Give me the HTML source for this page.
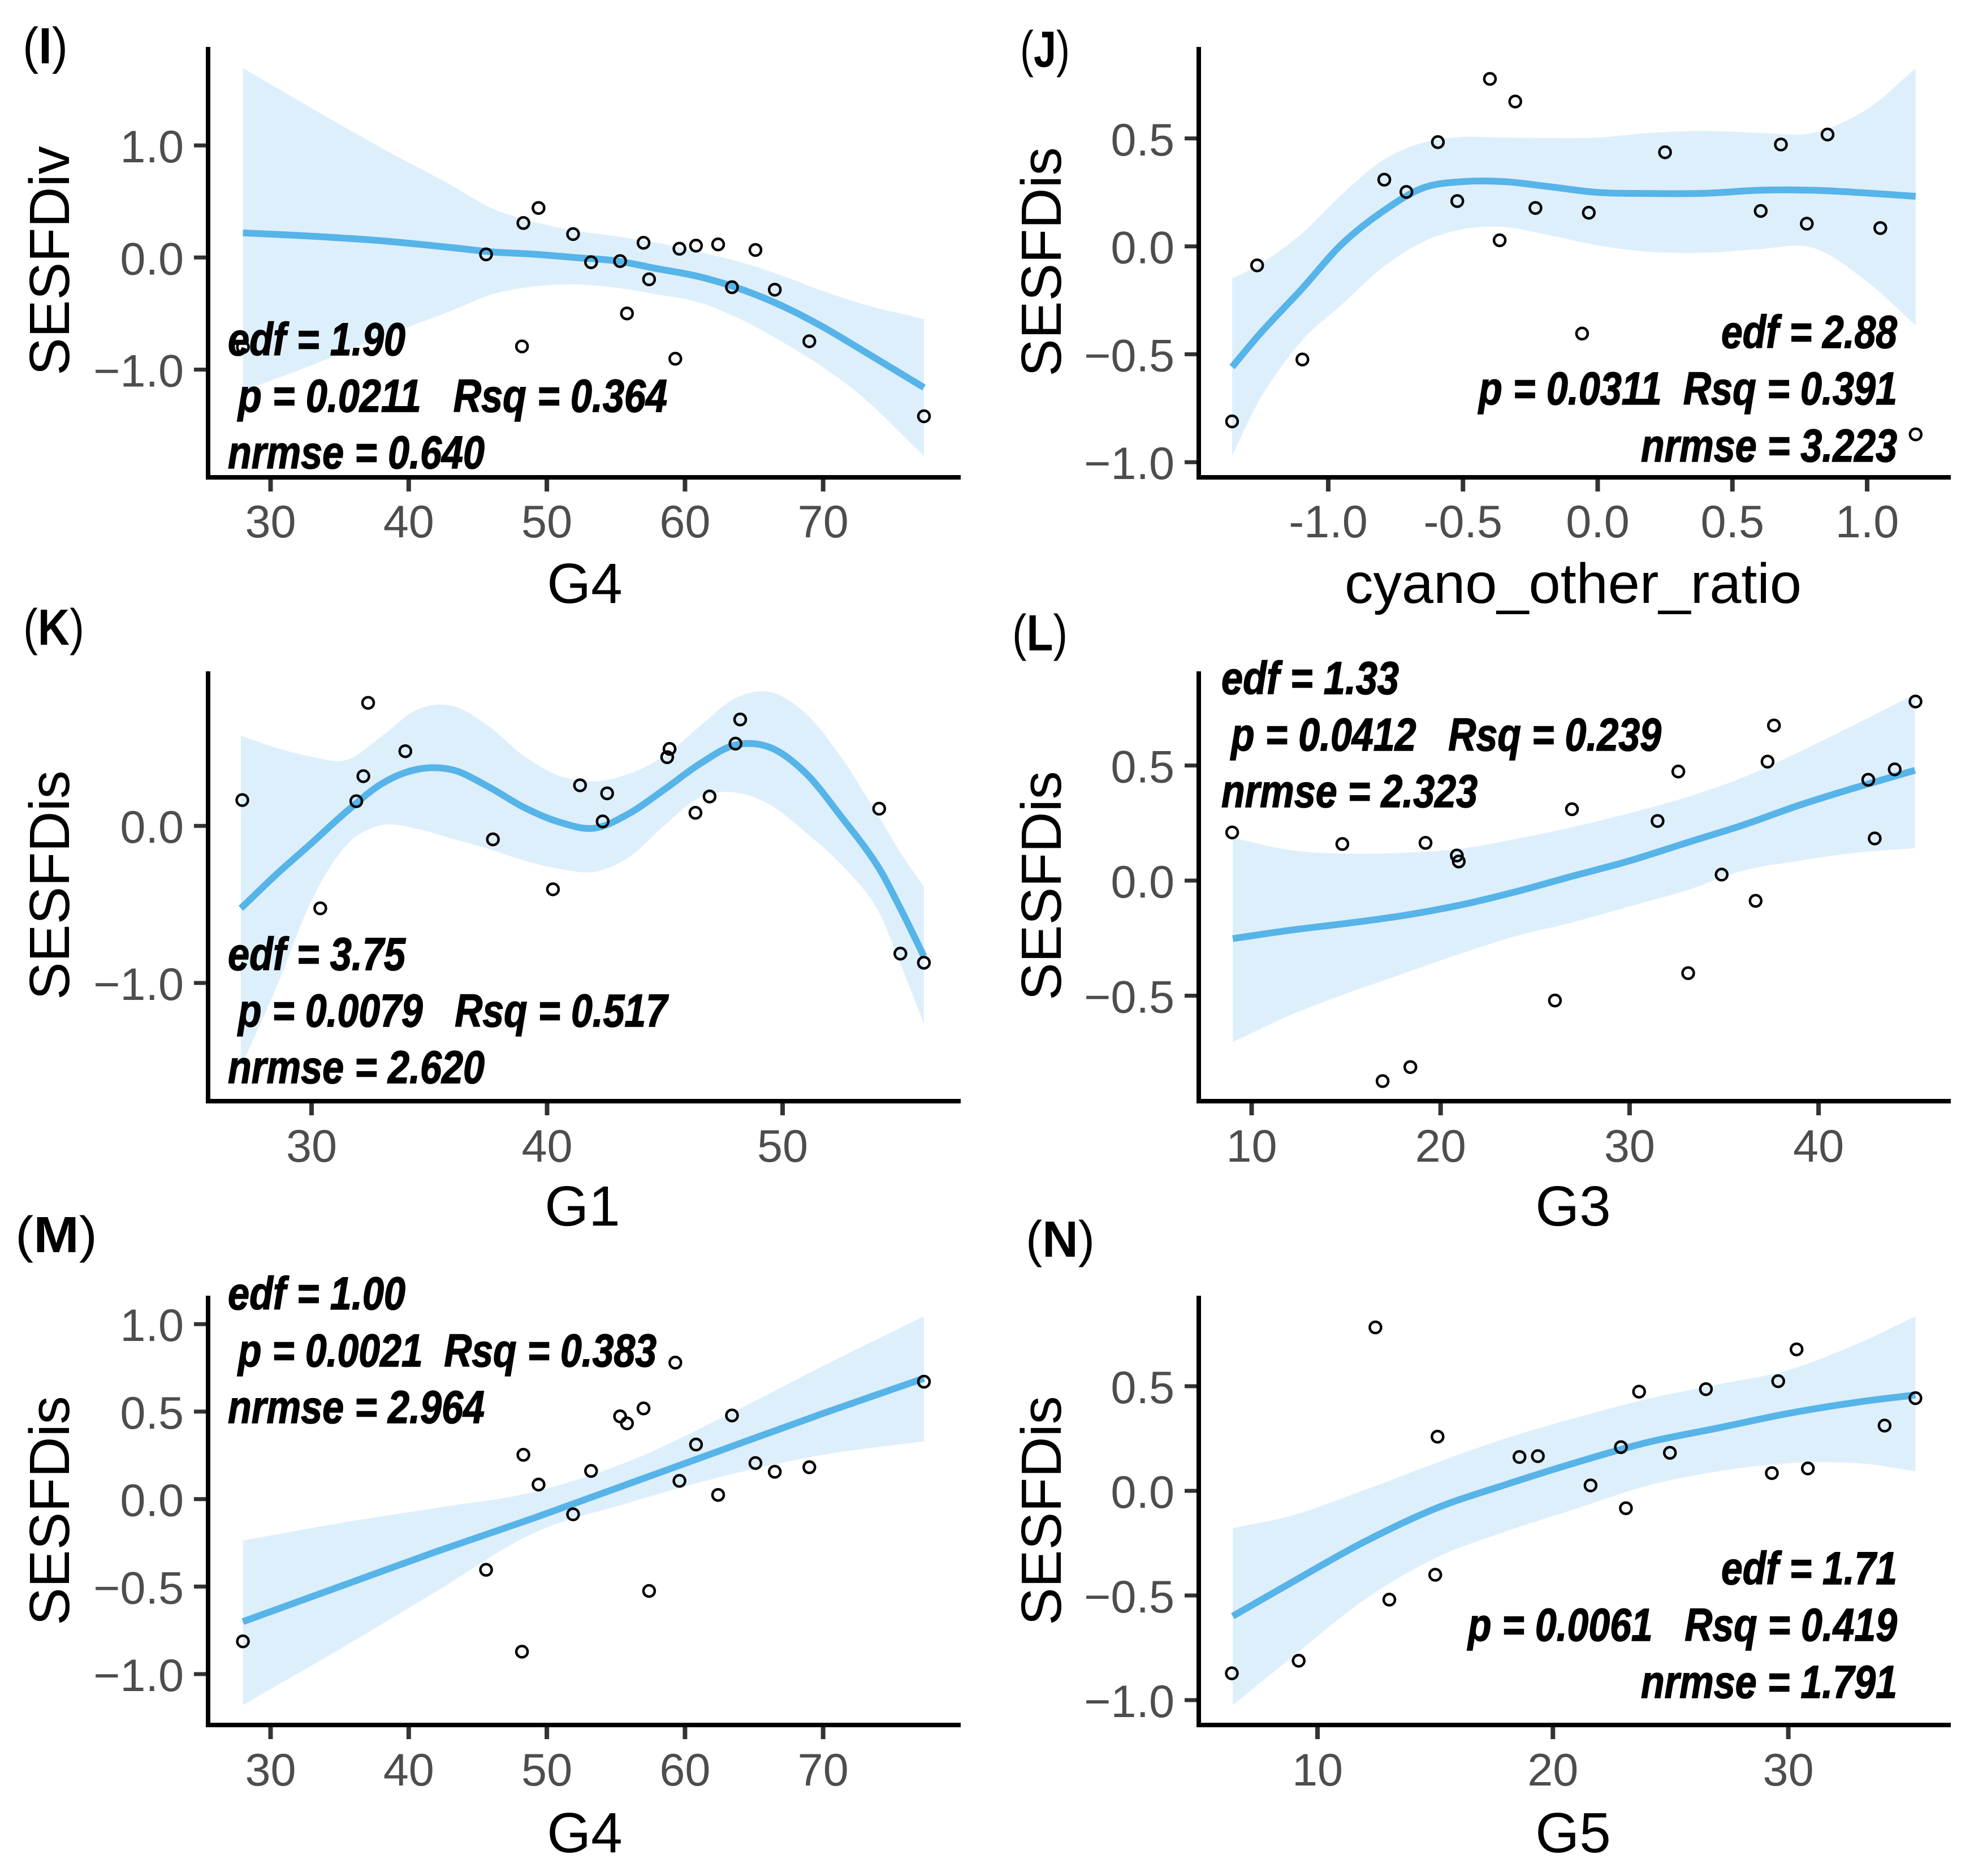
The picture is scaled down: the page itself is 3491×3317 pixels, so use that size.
<!DOCTYPE html>
<html lang="en">
<head>
<meta charset="utf-8">
<title>GAM smooth panels I to N</title>
<style>
html,body{margin:0;padding:0;background:#fff;}
svg{display:block;}
text{font-family:"Liberation Sans",sans-serif;}
.tick{font-size:81px;fill:#4d4d4d;}
.title{font-size:100px;fill:#000;}
.note{font-size:82px;font-weight:bold;font-style:italic;fill:#000;stroke:#000;stroke-width:1.6px;white-space:pre;}
.tag{font-size:90px;fill:#000;}
.tag tspan{font-weight:bold;}
</style>
</head>
<body>
<svg id="figure" xmlns="http://www.w3.org/2000/svg" width="3491" height="3317" viewBox="0 0 3491 3317">
<rect width="3491" height="3317" fill="#ffffff"/>

<g id="panel-i"></g>
<g id="panel-j"></g>
<g id="panel-k"></g>
<g id="panel-l"></g>
<g id="panel-m"></g>
<g id="panel-n"></g>

<g>
<text class="tag" x="40" y="112" textLength="80" lengthAdjust="spacingAndGlyphs">(<tspan>I</tspan>)</text>
<text class="tag" x="1804" y="118" textLength="88" lengthAdjust="spacingAndGlyphs">(<tspan>J</tspan>)</text>
<text class="tag" x="41" y="1140" textLength="108" lengthAdjust="spacingAndGlyphs">(<tspan>K</tspan>)</text>
<text class="tag" x="1790" y="1150" textLength="98" lengthAdjust="spacingAndGlyphs">(<tspan>L</tspan>)</text>
<text class="tag" x="27" y="2214" textLength="145" lengthAdjust="spacingAndGlyphs">(<tspan>M</tspan>)</text>
<text class="tag" x="1814" y="2222" textLength="122" lengthAdjust="spacingAndGlyphs">(<tspan>N</tspan>)</text>
</g>

<g>
<text class="title" x="1034" y="1066" text-anchor="middle">G4</text>
<text class="title" x="2782" y="1066" text-anchor="middle" textLength="808" lengthAdjust="spacingAndGlyphs">cyano_other_ratio</text>
<text class="title" x="1030" y="2167" text-anchor="middle">G1</text>
<text class="title" x="2782" y="2167" text-anchor="middle">G3</text>
<text class="title" x="1034" y="3275" text-anchor="middle">G4</text>
<text class="title" x="2782" y="3275" text-anchor="middle">G5</text>
<text class="title" transform="translate(122 461) rotate(-90)" text-anchor="middle">SESFDiv</text>
<text class="title" transform="translate(1876 463) rotate(-90)" text-anchor="middle">SESFDis</text>
<text class="title" transform="translate(122 1565) rotate(-90)" text-anchor="middle">SESFDis</text>
<text class="title" transform="translate(1876 1566) rotate(-90)" text-anchor="middle">SESFDis</text>
<text class="title" transform="translate(122 2671) rotate(-90)" text-anchor="middle">SESFDis</text>
<text class="title" transform="translate(1876 2671) rotate(-90)" text-anchor="middle">SESFDis</text>
</g>

<g>
<text class="note" x="403" y="628" textLength="314" lengthAdjust="spacingAndGlyphs">edf = 1.90</text>
<text class="note" x="421" y="728" textLength="759" lengthAdjust="spacingAndGlyphs">p = 0.0211   Rsq = 0.364</text>
<text class="note" x="403" y="828" textLength="454" lengthAdjust="spacingAndGlyphs">nrmse = 0.640</text>

<text class="note" x="3044" y="615" textLength="311" lengthAdjust="spacingAndGlyphs">edf = 2.88</text>
<text class="note" x="2615" y="715" textLength="740" lengthAdjust="spacingAndGlyphs">p = 0.0311  Rsq = 0.391</text>
<text class="note" x="2902" y="816" textLength="453" lengthAdjust="spacingAndGlyphs">nrmse = 3.223</text>

<text class="note" x="403" y="1715" textLength="314" lengthAdjust="spacingAndGlyphs">edf = 3.75</text>
<text class="note" x="421" y="1815" textLength="759" lengthAdjust="spacingAndGlyphs">p = 0.0079   Rsq = 0.517</text>
<text class="note" x="403" y="1915" textLength="454" lengthAdjust="spacingAndGlyphs">nrmse = 2.620</text>

<text class="note" x="2160" y="1227" textLength="314" lengthAdjust="spacingAndGlyphs">edf = 1.33</text>
<text class="note" x="2177" y="1327" textLength="761" lengthAdjust="spacingAndGlyphs">p = 0.0412   Rsq = 0.239</text>
<text class="note" x="2160" y="1427" textLength="453" lengthAdjust="spacingAndGlyphs">nrmse = 2.323</text>

<text class="note" x="403" y="2315" textLength="314" lengthAdjust="spacingAndGlyphs">edf = 1.00</text>
<text class="note" x="421" y="2416" textLength="740" lengthAdjust="spacingAndGlyphs">p = 0.0021  Rsq = 0.383</text>
<text class="note" x="403" y="2516" textLength="454" lengthAdjust="spacingAndGlyphs">nrmse = 2.964</text>

<text class="note" x="3044" y="2801" textLength="311" lengthAdjust="spacingAndGlyphs">edf = 1.71</text>
<text class="note" x="2596" y="2901" textLength="759" lengthAdjust="spacingAndGlyphs">p = 0.0061   Rsq = 0.419</text>
<text class="note" x="2902" y="3002" textLength="453" lengthAdjust="spacingAndGlyphs">nrmse = 1.791</text>
</g>
</svg>

<script>
// Panel I data
const iPointX = [28,45.6,48.3,48.2,49.4,51.9,53.2,55.3,55.8,57.0,57.4,59.3,59.6,60.8,62.4,63.4,65.1,66.5,69.0,77.3];
const iPointY = [-0.80,0.028,0.308,-0.793,0.442,0.209,-0.042,-0.032,-0.499,0.131,-0.195,-0.903,0.078,0.106,0.117,-0.265,0.067,-0.287,-0.747,-1.416];
const iCurveX = [28,33,38,43,46,49,52,55,58,61,64,67,70,73,77.3];
const iFit = [0.22,0.19,0.15,0.09,0.05,0.03,0.0,-0.03,-0.10,-0.17,-0.28,-0.43,-0.62,-0.84,-1.16];
const iUpper = [1.69,1.33,0.98,0.65,0.44,0.32,0.24,0.19,0.13,0.05,-0.04,-0.16,-0.30,-0.42,-0.55];
const iLower = [-1.19,-0.96,-0.71,-0.48,-0.33,-0.26,-0.24,-0.27,-0.33,-0.40,-0.55,-0.75,-0.98,-1.26,-1.77];
const iXTicks = [30,40,50,60,70];
const iXLabels = ["30","40","50","60","70"];
const iYTicks = [-1,0,1];
const iYLabels = ["\u22121.0","0.0","1.0"];

// Panel J data
const jPointX = [-1.357,-1.264,-1.096,-0.792,-0.710,-0.593,-0.521,-0.40,-0.364,-0.306,-0.231,-0.058,-0.033,0.25,0.605,0.68,0.776,0.853,1.049,1.18];
const jPointY = [-0.811,-0.088,-0.524,0.309,0.252,0.483,0.21,0.776,0.028,0.671,0.178,-0.404,0.156,0.436,0.164,0.472,0.105,0.518,0.085,-0.871];
const jCurveX = [-1.357,-1.25,-1.1,-0.95,-0.8,-0.65,-0.5,-0.35,-0.2,0,0.2,0.4,0.6,0.8,1.0,1.18];
const jFit = [-0.559,-0.40,-0.20,0.01,0.16,0.27,0.30,0.30,0.28,0.25,0.245,0.246,0.26,0.26,0.247,0.232];
const jUpper = [-0.15,-0.08,0.057,0.24,0.397,0.48,0.507,0.504,0.502,0.504,0.526,0.535,0.526,0.526,0.636,0.825];
const jLower = [-0.97,-0.70,-0.44,-0.27,-0.10,0.02,0.08,0.09,0.057,0.005,-0.026,-0.03,-0.013,-0.007,-0.164,-0.366];
const jXTicks = [-1,-0.5,0,0.5,1];
const jXLabels = ["-1.0","-0.5","0.0","0.5","1.0"];
const jYTicks = [-1,-0.5,0,0.5];
const jYLabels = ["\u22121.0","\u22120.5","0.0","0.5"];

// Panel K data
const kPointX = [27.06,30.37,31.9,32.2,32.4,33.98,37.7,40.25,41.4,42.36,42.55,45.1,45.2,46.3,46.9,48.0,48.2,54.1,55.0,56.0];
const kPointY = [0.164,-0.525,0.157,0.316,0.783,0.475,-0.086,-0.404,0.258,0.028,0.207,0.437,0.49,0.083,0.187,0.523,0.677,0.109,-0.813,-0.871];
const kCurveX = [27,28.5,30,31.5,33,34.5,36,37.5,39,40.5,42,43.5,45,46.5,48,49.5,51,52.5,54,55,56];
const kFit = [-0.525,-0.31,-0.11,0.093,0.27,0.36,0.356,0.25,0.119,0.025,-0.015,0.08,0.234,0.396,0.515,0.497,0.333,0.056,-0.247,-0.525,-0.83];
const kUpper = [0.573,0.497,0.44,0.42,0.573,0.742,0.763,0.636,0.447,0.32,0.283,0.333,0.447,0.636,0.813,0.851,0.712,0.434,0.08,-0.17,-0.386];
const kLower = [-1.535,-1.03,-0.475,-0.12,0.005,-0.02,-0.083,-0.146,-0.22,-0.273,-0.293,-0.197,0.005,0.182,0.212,0.131,-0.045,-0.247,-0.525,-0.879,-1.258];
const kXTicks = [30,40,50];
const kXLabels = ["30","40","50"];
const kYTicks = [-1,0];
const kYLabels = ["\u22121.0","0.0"];

// Panel L data
const lPointX = [8.97,14.8,16.93,18.4,19.2,20.86,20.96,26.05,26.95,31.48,32.58,33.1,34.87,36.67,37.3,37.64,42.63,42.97,44.03,45.13];
const lPointY = [0.209,0.159,-0.871,-0.81,0.164,0.109,0.083,-0.521,0.31,0.259,0.474,-0.402,0.026,-0.088,0.517,0.674,0.438,0.183,0.483,0.778];
const lCurveX = [9,12,15,18,21,24,27,30,33,36,39,42,45.1];
const lFit = [-0.252,-0.216,-0.186,-0.152,-0.107,-0.048,0.02,0.086,0.164,0.241,0.328,0.405,0.479];
const lUpper = [0.186,0.133,0.117,0.121,0.138,0.181,0.233,0.293,0.362,0.448,0.56,0.681,0.81];
const lLower = [-0.702,-0.586,-0.491,-0.405,-0.319,-0.241,-0.181,-0.112,-0.043,0.043,0.086,0.121,0.141];
const lXTicks = [10,20,30,40];
const lXLabels = ["10","20","30","40"];
const lYTicks = [-0.5,0,0.5];
const lYLabels = ["\u22120.5","0.0","0.5"];

// Panel M data
const mPointX = [28,45.6,48.2,48.3,49.4,51.9,53.2,55.3,55.8,57.0,57.4,59.3,59.6,60.8,62.4,63.4,65.1,66.5,69,77.3];
const mPointY = [-0.813,-0.404,-0.872,0.253,0.083,-0.087,0.161,0.473,0.433,0.518,-0.525,0.78,0.104,0.312,0.024,0.478,0.206,0.156,0.182,0.671];
const mCurveX = [28,35,42,49,56,63,70,77.3];
const mFit = [-0.70,-0.50,-0.30,-0.11,0.09,0.29,0.49,0.69];
const mUpper = [-0.237,-0.137,-0.05,0.04,0.218,0.478,0.761,1.045];
const mLower = [-1.177,-0.858,-0.527,-0.196,-0.019,0.135,0.253,0.331];
const mXTicks = [30,40,50,60,70];
const mXLabels = ["30","40","50","60","70"];
const mYTicks = [-1,-0.5,0,0.5,1];
const mYLabels = ["\u22121.0","\u22120.5","0.0","0.5","1.0"];

// Panel N data
const nPointX = [6.36,9.2,12.46,13.05,15.0,15.1,18.58,19.36,21.6,22.89,23.1,23.66,24.97,26.5,29.3,29.57,30.35,30.83,34.09,35.4];
const nPointY = [-0.872,-0.812,0.781,-0.52,-0.401,0.259,0.162,0.166,0.026,0.209,-0.083,0.474,0.182,0.486,0.085,0.524,0.676,0.107,0.312,0.443];
const nCurveX = [6.4,9,12,15,18,21,24,27,30,33,35.4];
const nFit = [-0.599,-0.431,-0.243,-0.085,0.03,0.136,0.231,0.30,0.37,0.425,0.458];
const nUpper = [-0.178,-0.115,0.004,0.132,0.251,0.35,0.439,0.508,0.577,0.706,0.834];
const nLower = [-1.024,-0.787,-0.52,-0.322,-0.194,-0.085,0.024,0.093,0.132,0.132,0.093];
const nXTicks = [10,20,30];
const nXLabels = ["10","20","30"];
const nYTicks = [-1,-0.5,0,0.5];
const nYLabels = ["\u22121.0","\u22120.5","0.0","0.5"];

const SVG_NS = "http://www.w3.org/2000/svg";

function make(tag, parent, attrs) {
  const el = document.createElementNS(SVG_NS, tag);
  Object.keys(attrs).forEach(function (k) { el.setAttribute(k, attrs[k]); });
  parent.appendChild(el);
  return el;
}

// Cubic segments through pixel points, with tangents taken against x so uneven spacing stays smooth
function splineSegs(pts) {
  const n = pts.length;
  const slope = pts.map(function (p, i) {
    const a = pts[Math.max(i - 1, 0)];
    const b = pts[Math.min(i + 1, n - 1)];
    return (b[1] - a[1]) / (b[0] - a[0]);
  });
  let d = "";
  for (let i = 0; i < n - 1; i++) {
    const p1 = pts[i];
    const p2 = pts[i + 1];
    const h = (p2[0] - p1[0]) / 3;
    d += " C" + (p1[0] + h).toFixed(1) + " " + (p1[1] + slope[i] * h).toFixed(1) +
         " " + (p2[0] - h).toFixed(1) + " " + (p2[1] - slope[i + 1] * h).toFixed(1) +
         " " + p2[0].toFixed(1) + " " + p2[1].toFixed(1);
  }
  return d;
}

function drawPanel(id, frame, d) {
  const root = document.getElementById("panel-" + id);
  const sx = function (v) { return frame.xAt0 + v * frame.xPerUnit; };
  const sy = function (v) { return frame.yAt0 - v * frame.yPerUnit; };

  const up = d.curveX.map(function (x, i) { return [sx(x), sy(d.upper[i])]; });
  const lo = d.curveX.map(function (x, i) { return [sx(x), sy(d.lower[i])]; }).reverse();
  const fit = d.curveX.map(function (x, i) { return [sx(x), sy(d.fit[i])]; });

  const band = make("path", root, {
    d: "M" + up[0][0].toFixed(1) + " " + up[0][1].toFixed(1) + splineSegs(up) +
       " L" + lo[0][0].toFixed(1) + " " + lo[0][1].toFixed(1) + splineSegs(lo) + " Z",
    fill: "#deeffc"
  });
  
  

  const line = make("path", root, {
    d: "M" + fit[0][0].toFixed(1) + " " + fit[0][1].toFixed(1) + splineSegs(fit),
    fill: "none", stroke: "#56b4e9", "stroke-width": 12
  });
  
  

  d.pointX.forEach(function (x, i) {
    const c = make("circle", root, {
      cx: sx(x).toFixed(1), cy: sy(d.pointY[i]).toFixed(1), r: 10,
      fill: "none", stroke: "#000", "stroke-width": 4.5
    });
    
    
  });

  const yAxis = make("line", root, {
    x1: frame.left, x2: frame.left, y1: frame.top, y2: frame.bottom + 4,
    stroke: "#000", "stroke-width": 8
  });
  
  

  const xAxis = make("line", root, {
    x1: frame.left, x2: frame.right, y1: frame.bottom, y2: frame.bottom,
    stroke: "#000", "stroke-width": 8
  });
  
  

  d.xTicks.forEach(function (v, i) {
    const px = sx(v);
    const t = make("line", root, {
      x1: px, x2: px, y1: frame.bottom + 4, y2: frame.bottom + 25,
      stroke: "#333", "stroke-width": 8
    });
    
    
    const label = make("text", root, {
      x: px, y: frame.xLabelY, "text-anchor": "middle", "class": "tick"
    });
    label.textContent = d.xLabels[i];
    
    
  });

  d.yTicks.forEach(function (v, i) {
    const py = sy(v);
    const t = make("line", root, {
      x1: frame.left - 25, x2: frame.left - 4, y1: py, y2: py,
      stroke: "#333", "stroke-width": 7
    });
    
    
    const label = make("text", root, {
      x: frame.left - 43, y: py + 30, "text-anchor": "end", "class": "tick"
    });
    label.textContent = d.yLabels[i];
    
    
  });
}

drawPanel("i",
  {left:368,right:1699,top:83,bottom:844,xLabelY:950,xAt0:478.5-30*24.43,xPerUnit:24.43,yAt0:455.3,yPerUnit:198.2},
  {pointX:iPointX,pointY:iPointY,curveX:iCurveX,fit:iFit,upper:iUpper,lower:iLower,xTicks:iXTicks,xLabels:iXLabels,yTicks:iYTicks,yLabels:iYLabels});
drawPanel("j",
  {left:2120,right:3450,top:83,bottom:844,xLabelY:950,xAt0:2825.5,xPerUnit:476.5,yAt0:435.6,yPerUnit:381.6},
  {pointX:jPointX,pointY:jPointY,curveX:jCurveX,fit:jFit,upper:jUpper,lower:jLower,xTicks:jXTicks,xLabels:jXLabels,yTicks:jYTicks,yLabels:jYLabels});
drawPanel("k",
  {left:368,right:1699,top:1187,bottom:1947,xLabelY:2054,xAt0:551-30*41.65,xPerUnit:41.65,yAt0:1460.2,yPerUnit:277.8},
  {pointX:kPointX,pointY:kPointY,curveX:kCurveX,fit:kFit,upper:kUpper,lower:kLower,xTicks:kXTicks,xLabels:kXLabels,yTicks:kYTicks,yLabels:kYLabels});
drawPanel("l",
  {left:2120,right:3450,top:1187,bottom:1947,xLabelY:2054,xAt0:2213.5-10*33.42,xPerUnit:33.42,yAt0:1557,yPerUnit:407},
  {pointX:lPointX,pointY:lPointY,curveX:lCurveX,fit:lFit,upper:lUpper,lower:lLower,xTicks:lXTicks,xLabels:lXLabels,yTicks:lYTicks,yLabels:lYLabels});
drawPanel("m",
  {left:368,right:1699,top:2291,bottom:3050,xLabelY:3157,xAt0:478.5-30*24.43,xPerUnit:24.43,yAt0:2650.6,yPerUnit:309.4},
  {pointX:mPointX,pointY:mPointY,curveX:mCurveX,fit:mFit,upper:mUpper,lower:mLower,xTicks:mXTicks,xLabels:mXLabels,yTicks:mYTicks,yLabels:mYLabels});
drawPanel("n",
  {left:2120,right:3450,top:2291,bottom:3050,xLabelY:3157,xAt0:2330-10*41.63,xPerUnit:41.63,yAt0:2636,yPerUnit:370},
  {pointX:nPointX,pointY:nPointY,curveX:nCurveX,fit:nFit,upper:nUpper,lower:nLower,xTicks:nXTicks,xLabels:nXLabels,yTicks:nYTicks,yLabels:nYLabels});
</script>
</body>
</html>
